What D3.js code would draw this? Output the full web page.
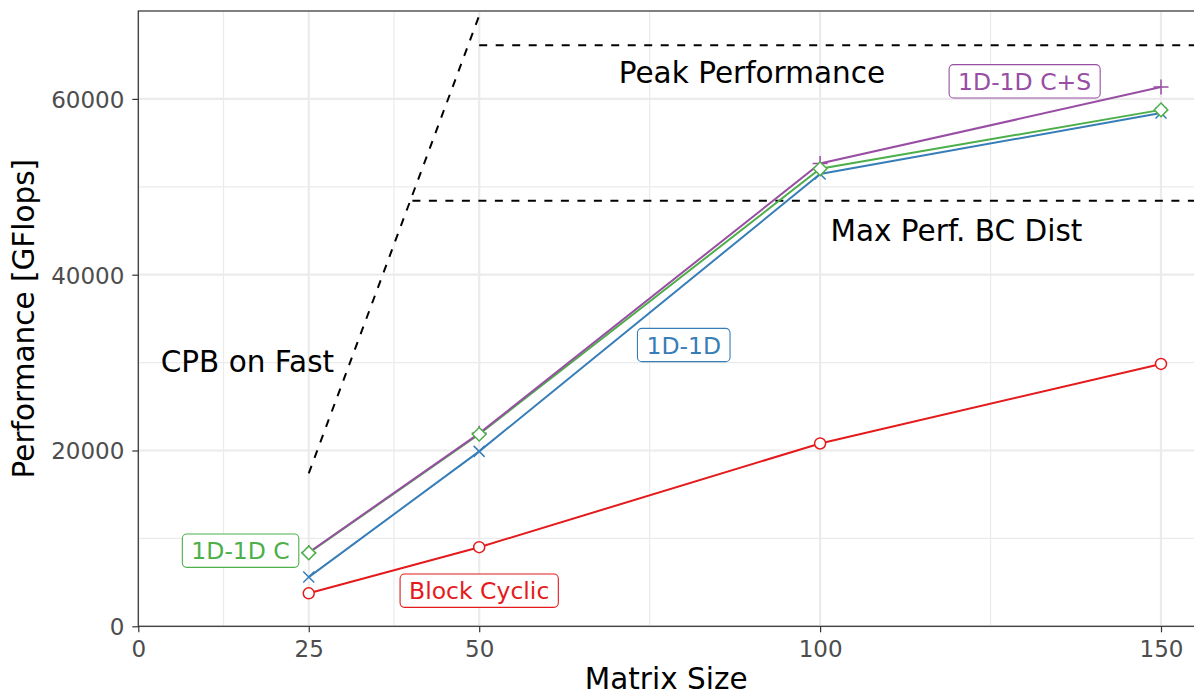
<!DOCTYPE html>
<html>
<head>
<meta charset="utf-8">
<script src="https://cdn.jsdelivr.net/npm/d3@7"></script>
<style>
  html, body { margin: 0; padding: 0; background: #fff; }
  svg { display: block; font-family: "DejaVu Sans", sans-serif; }
</style>
</head>
<body>
<svg id="chart" width="1194" height="694"></svg>
<script>
// ---- data ----
const matrixSizes = [25, 50, 100, 150];
const blockCyclic = [3750, 9000, 20800, 29850];
const oneD        = [5600, 19900, 51450, 58400];
const oneDC       = [8350, 21850, 52050, 58750];
const oneDCS      = [8400, 21950, 52650, 61350];

const seriesNames  = ["1D-1D", "1D-1D C", "1D-1D C+S", "Block Cyclic"];
const seriesColors = ["#377EB8", "#4DAF4A", "#984EA3", "#E41A1C"];
const seriesShapes = ["cross", "diamond", "plus", "circle"];
const seriesValues = [oneD, oneDC, oneDCS, blockCyclic];

// label positions (data coords)
const labelX = [80, 15, 130, 50];
const labelY = [32000, 8600, 62000, 4050];

const xTicks = [0, 25, 50, 100, 150];
const xMinor = [12.5, 37.5, 75, 125];
const yTicks = [0, 20000, 40000, 60000];
const yMinor = [10000, 30000, 50000, 70000];

// reference lines
const peakPerf = 66100, peakStart = 50;
const maxPerfBC = 48400, maxPerfStart = 40.2;
const cpbX = [25, 50.25];
const cpbY = [17400, 70000];

const annotTexts = ["Peak Performance", "Max Perf. BC Dist", "CPB on Fast"];
const annotX = [90, 120, 16];
const annotY = [63000, 45100, 30100];

// ---- layout ----
const svg = d3.select("#chart");
const pLeft = 138.3, pTop = 11, pBottom = 626.3, pRight = 1194;
const x = d3.scaleLinear().domain([0, 150]).range([pLeft, 1161]);
const y = d3.scaleLinear().domain([0, 70000]).range([pBottom, pTop]);

svg.append("defs").append("clipPath").attr("id", "clip")
  .append("rect").attr("x", pLeft).attr("y", pTop).attr("width", pRight - pLeft + 2).attr("height", pBottom - pTop);

// grid
const grid = svg.append("g");
grid.selectAll(".ymin").data(yMinor).join("line")
  .attr("x1", pLeft).attr("x2", pRight).attr("y1", d => y(d)).attr("y2", d => y(d))
  .attr("stroke", "#EBEBEB").attr("stroke-width", 1.2);
grid.selectAll(".xmin").data(xMinor).join("line")
  .attr("y1", pTop).attr("y2", pBottom).attr("x1", d => x(d)).attr("x2", d => x(d))
  .attr("stroke", "#EBEBEB").attr("stroke-width", 1.2);
grid.selectAll(".ymaj").data(yTicks).join("line")
  .attr("x1", pLeft).attr("x2", pRight).attr("y1", d => y(d)).attr("y2", d => y(d))
  .attr("stroke", "#EBEBEB").attr("stroke-width", 2.2);
grid.selectAll(".xmaj").data(xTicks).join("line")
  .attr("y1", pTop).attr("y2", pBottom).attr("x1", d => x(d)).attr("x2", d => x(d))
  .attr("stroke", "#EBEBEB").attr("stroke-width", 2.2);

const plot = svg.append("g").attr("clip-path", "url(#clip)");

// reference dashed lines
const dash = "8,8.5";
plot.append("line")
  .attr("x1", x(peakStart)).attr("x2", pRight + 5).attr("y1", y(peakPerf)).attr("y2", y(peakPerf))
  .attr("stroke", "#000").attr("stroke-width", 2).attr("stroke-dasharray", dash);
plot.append("line")
  .attr("x1", x(maxPerfStart)).attr("x2", pRight + 5).attr("y1", y(maxPerfBC)).attr("y2", y(maxPerfBC))
  .attr("stroke", "#000").attr("stroke-width", 2).attr("stroke-dasharray", dash);
plot.append("line")
  .attr("x1", x(cpbX[0])).attr("x2", x(cpbX[1])).attr("y1", y(cpbY[0])).attr("y2", y(cpbY[1]))
  .attr("stroke", "#000").attr("stroke-width", 2).attr("stroke-dasharray", dash);

// series lines
const line = d3.line().x(d => x(d[0])).y(d => y(d[1]));
const lineOrder = [3, 0, 1, 2];
lineOrder.forEach(i => {
  const pts = matrixSizes.map((m, j) => [m, seriesValues[i][j]]);
  plot.append("path").datum(pts).attr("d", line)
    .attr("fill", "none").attr("stroke", seriesColors[i]).attr("stroke-width", 2);
});

// points
const pointOrder = [3, 0, 2, 1];
pointOrder.forEach(i => {
  const c = seriesColors[i];
  matrixSizes.forEach((m, j) => {
    const px = x(m), py = y(seriesValues[i][j]);
    const shape = seriesShapes[i];
    if (shape === "circle") {
      plot.append("circle").attr("cx", px).attr("cy", py).attr("r", 5.5)
        .attr("fill", "#fff").attr("stroke", c).attr("stroke-width", 1.5);
    } else if (shape === "diamond") {
      const s = 6.8;
      plot.append("path").attr("d", `M${px},${py - s}L${px + s},${py}L${px},${py + s}L${px - s},${py}Z`)
        .attr("fill", "#fff").attr("stroke", c).attr("stroke-width", 1.5);
    } else if (shape === "cross") {
      const s = 5.5;
      plot.append("path").attr("d", `M${px - s},${py - s}L${px + s},${py + s}M${px - s},${py + s}L${px + s},${py - s}`)
        .attr("fill", "none").attr("stroke", c).attr("stroke-width", 1.5);
    } else {
      const s = 7.5;
      plot.append("path").attr("d", `M${px - s},${py}L${px + s},${py}M${px},${py - s}L${px},${py + s}`)
        .attr("fill", "none").attr("stroke", c).attr("stroke-width", 1.5);
    }
  });
});

// annotations
annotTexts.forEach((t, i) => {
  svg.append("text").attr("x", x(annotX[i])).attr("y", y(annotY[i]) + 0.3645 * 29.5)
    .attr("text-anchor", "middle").attr("font-size", 29.5).attr("fill", "#000").text(t);
});

// series labels (boxed)
seriesNames.forEach((name, i) => {
  const cx = x(labelX[i]), cy = y(labelY[i]);
  const g = svg.append("g");
  const txt = g.append("text").attr("x", cx).attr("y", cy + 0.3645 * 23.5)
    .attr("text-anchor", "middle").attr("font-size", 23.5).attr("fill", seriesColors[i]).text(name);
  const bb = txt.node().getBBox();
  const padX = 9, h = 33.3;
  g.insert("rect", "text").attr("x", bb.x - padX).attr("y", cy - h / 2)
    .attr("width", bb.width + 2 * padX).attr("height", h).attr("rx", 4.5)
    .attr("fill", "#fff").attr("stroke", seriesColors[i]).attr("stroke-width", 1.1);
});

// panel border
svg.append("rect").attr("x", pLeft).attr("y", pTop).attr("width", pRight - pLeft + 10).attr("height", pBottom - pTop)
  .attr("fill", "none").attr("stroke", "#333333").attr("stroke-width", 1.2);

// axes
const xAxis = svg.append("g").attr("transform", `translate(0,${pBottom})`)
  .call(d3.axisBottom(x).tickValues(xTicks).tickSize(6).tickPadding(6).tickFormat(d3.format("d")));
const yAxis = svg.append("g").attr("transform", `translate(${pLeft},0)`)
  .call(d3.axisLeft(y).tickValues(yTicks).tickSize(6).tickPadding(8).tickFormat(d3.format("d")));
[xAxis, yAxis].forEach(a => {
  a.select(".domain").remove();
  a.selectAll(".tick line").attr("stroke", "#333333").attr("stroke-width", 1.2);
  a.selectAll(".tick text").attr("fill", "#4D4D4D").attr("font-size", 23)
    .attr("font-family", "DejaVu Sans, sans-serif");
});
xAxis.selectAll(".tick text").attr("dy", null).attr("y", 30.4);
yAxis.selectAll(".tick text").attr("dy", null).attr("y", 0.3645 * 23);

// axis titles
svg.append("text").attr("x", (pLeft + pRight) / 2).attr("y", 688.5)
  .attr("text-anchor", "middle").attr("font-size", 29.5).attr("fill", "#000").text("Matrix Size");
svg.append("text").attr("transform", `translate(33.5,${(pTop + pBottom) / 2}) rotate(-90)`)
  .attr("text-anchor", "middle").attr("font-size", 29.5).attr("fill", "#000").text("Performance [GFlops]");
</script>
</body>
</html>
